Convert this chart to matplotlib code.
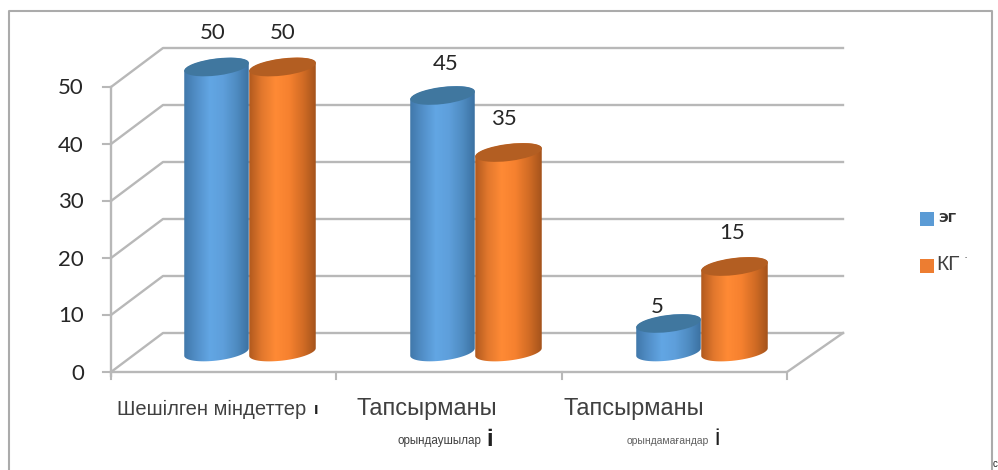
import numpy as np
import matplotlib
matplotlib.use("Agg")
import matplotlib.pyplot as plt
from matplotlib.colors import LinearSegmentedColormap
from matplotlib.patches import Ellipse, PathPatch, Rectangle
from matplotlib.path import Path

series_names = ["ЭГ", "КГ"]
eg_values = [50, 45, 5]
kg_values = [50, 35, 15]
y_ticks = [0, 10, 20, 30, 40, 50]

# the 3d box, in pixels
front_x0, front_x1 = 111, 787
front_y0, front_unit = 372, 5.70
depth_dx, depth_dy = 54, -39
base_y = 352

cmap_blue = LinearSegmentedColormap.from_list("b", ["#3f76a8", "#528fc8", "#62a6e4", "#5e9fdb", "#4f8cc2", "#3a6f9f"])
cmap_orange = LinearSegmentedColormap.from_list("o", ["#ad571d", "#e2782d", "#ff8a35", "#f6812f", "#d26c25", "#a1511b"])
top_blue = "#40779f"
top_orange = "#b35e22"
grid_color = "#b8b8b8"


def front_y(v):
    return front_y0 - v * front_unit


def cylinder(ax, x0, x1, value, cmap, top_color):
    # body is a tilted ellipse at each end joined by straight sides
    w = (x1 - x0) / 2
    cx = (x0 + x1) / 2
    ytop = base_y - value * front_unit
    tilt = 7
    rad = np.radians(tilt)
    t = np.linspace(0, np.pi, 40)
    ex = w * np.cos(t)
    ey = 8.5 * np.sin(t)
    bx = cx + ex * np.cos(rad) + ey * np.sin(rad)
    by = base_y + ey * np.cos(rad) - ex * np.sin(rad)
    tx = cx + ex[::-1] * np.cos(rad) + ey[::-1] * np.sin(rad)
    ty = ytop - ey[::-1] * np.cos(rad) - ex[::-1] * np.sin(rad)
    verts = np.column_stack([np.r_[bx, tx, bx[0]], np.r_[by, ty, by[0]]])
    clip = PathPatch(Path(verts), facecolor="none", edgecolor="none", transform=ax.transData)
    ax.add_patch(clip)
    grad = np.linspace(0, 1, 128).reshape(1, -1)
    im = ax.imshow(grad, cmap=cmap, aspect="auto", zorder=4,
                   extent=(x0 - 1, x1 + 1, by.max() + 2, ty.min() - 2))
    im.set_clip_path(clip)
    ax.add_patch(Ellipse((cx, ytop), 2 * w, 17, angle=-tilt, facecolor=top_color, edgecolor="none", zorder=5))


fig = plt.figure(figsize=(9.98, 4.70), dpi=100)
ax = fig.add_axes([0, 0, 1, 1])
ax.set_xlim(0, 998)
ax.set_ylim(470, 0)
ax.axis("off")

# outer frame, open at the bottom
ax.plot([9, 9, 992, 992], [470, 11, 11, 470], color="#ababab", lw=1.5, zorder=1)

# back wall lines and side wall diagonals
for v in y_ticks:
    y = front_y(v)
    ax.plot([front_x0, front_x0 + depth_dx - 2, front_x1 + depth_dx + 2],
            [y, y + depth_dy, y + depth_dy], color=grid_color, lw=1.7, zorder=2)
    ax.plot([front_x0 - 8, front_x0], [y, y], color=grid_color, lw=1.5, zorder=2)
    ax.text(84, y + 1.5, str(v), ha="right", va="center", fontsize=16, family="Lato", color="#262626")

ax.plot([front_x0, front_x0], [front_y(50), front_y0 + 4], color=grid_color, lw=1.7, zorder=2)
ax.plot([front_x0, front_x1, front_x1 + depth_dx + 2], [front_y0, front_y0, front_y0 + depth_dy],
        color=grid_color, lw=1.7, zorder=2)
for x in np.linspace(front_x0, front_x1, 4):
    ax.plot([x, x], [front_y0, front_y0 + 7], color=grid_color, lw=1.5, zorder=2)

# bars
slots = [184, 410, 636]
bar_w = 65
for i in range(3):
    cylinder(ax, slots[i], slots[i] + bar_w, eg_values[i], cmap_blue, top_blue)
    cylinder(ax, slots[i] + bar_w, slots[i] + 2 * bar_w + 2, kg_values[i], cmap_orange, top_orange)

# value labels
label_pos_eg = [(213, 33), (446, 64), (657, 307)]
label_pos_kg = [(283, 33), (504, 119), (732, 233)]
for v, (x, y) in zip(eg_values, label_pos_eg):
    ax.text(x, y, str(v), ha="center", va="center", fontsize=16, family="Lato", color="#262626")
for v, (x, y) in zip(kg_values, label_pos_kg):
    ax.text(x, y, str(v), ha="center", va="center", fontsize=16, family="Lato", color="#262626")

# category labels, the stray letters are part of the text
cat_font = "Liberation Sans"
ax.text(117, 409, "Шешілген міндеттер", ha="left", va="center", fontsize=14.5, family=cat_font, color="#404040")
ax.text(314, 409, "ı", ha="left", va="center", fontsize=12, family=cat_font, color="#202020", weight="bold")
ax.text(357, 409, "Тапсырманы", ha="left", va="center", fontsize=17, family=cat_font, color="#404040")
ax.text(398, 441, "орындаушылар", ha="left", va="center", fontsize=8.4, family=cat_font, color="#404040")
ax.text(486, 439, "і", ha="left", va="center", fontsize=17, family=cat_font, color="#202020", weight="bold")
ax.text(564, 409, "Тапсырманы", ha="left", va="center", fontsize=17, family=cat_font, color="#404040")
ax.text(627, 441, "орындамағандар", ha="left", va="center", fontsize=7.5, family=cat_font, color="#606060")
ax.text(714, 439, "і", ha="left", va="center", fontsize=17, family=cat_font, color="#202020")

# legend
ax.add_patch(Rectangle((920, 212), 14, 14, facecolor="#5b9bd5", edgecolor="none"))
ax.add_patch(Rectangle((920, 259), 14, 14, facecolor="#ed7d31", edgecolor="none"))
ax.text(938, 219, series_names[0], ha="left", va="center", fontsize=9.5, family="DejaVu Sans", color="#303030", weight="bold")
ax.text(936, 264, series_names[1], ha="left", va="center", fontsize=15, family=cat_font, color="#404040")
ax.text(964, 258, "·", ha="left", va="center", fontsize=9, family=cat_font, color="#404040")
ax.text(992.5, 464, "с", ha="left", va="center", fontsize=7, family=cat_font, color="#202020")

fig.savefig("out.png", dpi=100)
